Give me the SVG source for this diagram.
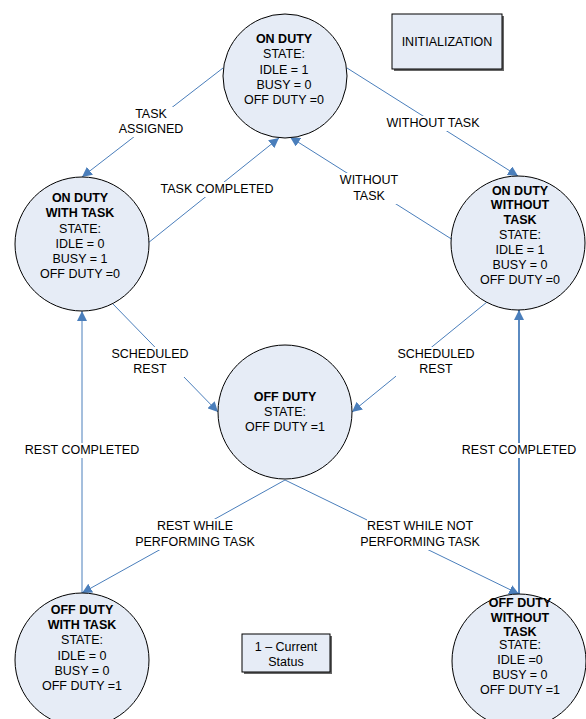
<svg xmlns="http://www.w3.org/2000/svg" width="586" height="719" viewBox="0 0 586 719">
<style>
.st{fill:#E6ECF6;stroke:#000;stroke-width:1}
.bx{fill:#E6ECF6;stroke:#000;stroke-width:1}
.sh{fill:#666}
text{font-family:"Liberation Sans",Arial,sans-serif;font-size:12.5px;fill:#000;text-anchor:middle}
.b{font-weight:bold}
.c{stroke:#4A7EBB;stroke-width:1;fill:none}
.lb{fill:#fff}
</style>
<defs>
<marker id="ah" viewBox="0 0 10 10" refX="10" refY="5" markerWidth="10" markerHeight="10" markerUnits="userSpaceOnUse" orient="auto">
<path d="M0,0 L10,5 L0,10 z" fill="#4A7EBB"/>
</marker>
</defs>
<rect width="586" height="719" fill="#fff"/>
<g id="connectors">
<line class="c" x1="223" y1="68" x2="82" y2="177" marker-end="url(#ah)"/>
<line class="c" x1="148" y1="243" x2="279" y2="138" marker-end="url(#ah)"/>
<line class="c" x1="453" y1="240" x2="290" y2="137" marker-end="url(#ah)"/>
<line class="c" x1="347" y1="68" x2="518" y2="176" marker-end="url(#ah)"/>
<line class="c" x1="113" y1="304" x2="218" y2="412" marker-end="url(#ah)"/>
<line class="c" x1="487" y1="302" x2="352" y2="412" marker-end="url(#ah)"/>
<line class="c" x1="82" y1="593" x2="82" y2="311" marker-end="url(#ah)"/>
<line class="c" x1="519" y1="594" x2="519" y2="310" style="stroke-width:1.8" marker-end="url(#ah)"/>
<line class="c" x1="285" y1="480" x2="82" y2="593" marker-end="url(#ah)"/>
<line class="c" x1="285" y1="480" x2="519" y2="594" marker-end="url(#ah)"/>
<g id="labels">
<rect class="lb" x="122" y="107" width="60" height="30"/>
<text x="151" y="118">TASK</text>
<text x="151" y="133">ASSIGNED</text>
<rect class="lb" x="155" y="182" width="124" height="15"/>
<text x="217" y="193">TASK COMPLETED</text>
<rect class="lb" x="336" y="173" width="66" height="31"/>
<text x="369" y="184">WITHOUT</text>
<text x="369" y="200">TASK</text>
<rect class="lb" x="382" y="116" width="102" height="15"/>
<text x="433" y="127">WITHOUT TASK</text>
<rect class="lb" x="110" y="347" width="80" height="30"/>
<text x="150" y="358">SCHEDULED</text>
<text x="150" y="373">REST</text>
<rect class="lb" x="396" y="347" width="80" height="30"/>
<text x="436" y="358">SCHEDULED</text>
<text x="436" y="373">REST</text>
<rect class="lb" x="22" y="443" width="120" height="15"/>
<text x="82" y="454">REST COMPLETED</text>
<rect class="lb" x="459" y="443" width="120" height="15"/>
<text x="519" y="454">REST COMPLETED</text>
<rect class="lb" x="142" y="519" width="106" height="31"/>
<text x="195" y="530">REST WHILE</text>
<text x="195" y="546">PERFORMING TASK</text>
<rect class="lb" x="367" y="519" width="106" height="31"/>
<text x="420" y="530">REST WHILE NOT</text>
<text x="420" y="546">PERFORMING TASK</text>
</g>
</g>
<g id="on_duty">
<circle class="st" cx="285" cy="76" r="62"/>
<text class="b" x="284" y="43">ON DUTY</text>
<text x="284" y="58">STATE:</text>
<text x="284" y="74">IDLE = 1</text>
<text x="284" y="89">BUSY = 0</text>
<text x="284" y="104">OFF DUTY =0</text>
</g>
<g id="on_duty_with_task">
<circle class="st" cx="82" cy="244" r="67"/>
<text class="b" x="80" y="202">ON DUTY</text>
<text class="b" x="80" y="217">WITH TASK</text>
<text x="80" y="233">STATE:</text>
<text x="80" y="248">IDLE = 0</text>
<text x="80" y="263">BUSY = 1</text>
<text x="80" y="278">OFF DUTY =0</text>
</g>
<g id="on_duty_without_task">
<circle class="st" cx="518" cy="243" r="67"/>
<text class="b" x="520" y="195">ON DUTY</text>
<text class="b" x="520" y="209">WITHOUT</text>
<text class="b" x="520" y="224">TASK</text>
<text x="520" y="239">STATE:</text>
<text x="520" y="254">IDLE = 1</text>
<text x="520" y="269">BUSY = 0</text>
<text x="520" y="284">OFF DUTY =0</text>
</g>
<g id="off_duty">
<circle class="st" cx="285" cy="412" r="67"/>
<text class="b" x="285" y="401">OFF DUTY</text>
<text x="285" y="416">STATE:</text>
<text x="285" y="431">OFF DUTY =1</text>
</g>
<g id="off_duty_with_task">
<circle class="st" cx="82" cy="660" r="67"/>
<text class="b" x="82" y="614">OFF DUTY</text>
<text class="b" x="82" y="629">WITH TASK</text>
<text x="82" y="644">STATE:</text>
<text x="82" y="660">IDLE = 0</text>
<text x="82" y="675">BUSY = 0</text>
<text x="82" y="690">OFF DUTY =1</text>
</g>
<g id="off_duty_without_task">
<circle class="st" cx="519" cy="661" r="67"/>
<text class="b" x="520" y="607">OFF DUTY</text>
<text class="b" x="520" y="622">WITHOUT</text>
<text class="b" x="520" y="636">TASK</text>
<text x="520" y="649">STATE:</text>
<text x="520" y="664">IDLE =0</text>
<text x="520" y="679">BUSY = 0</text>
<text x="520" y="694">OFF DUTY =1</text>
</g>
<g id="initialization">
<rect class="sh" x="394" y="16" width="110" height="55"/>
<rect class="bx" x="392" y="14" width="110" height="55"/>
<text x="447" y="46">INITIALIZATION</text>
</g>
<g id="legend">
<rect class="sh" x="244" y="636" width="88" height="38"/>
<rect class="bx" x="242" y="634" width="88" height="38"/>
<text x="286" y="651">1 – Current</text>
<text x="286" y="666">Status</text>
</g>
</svg>
